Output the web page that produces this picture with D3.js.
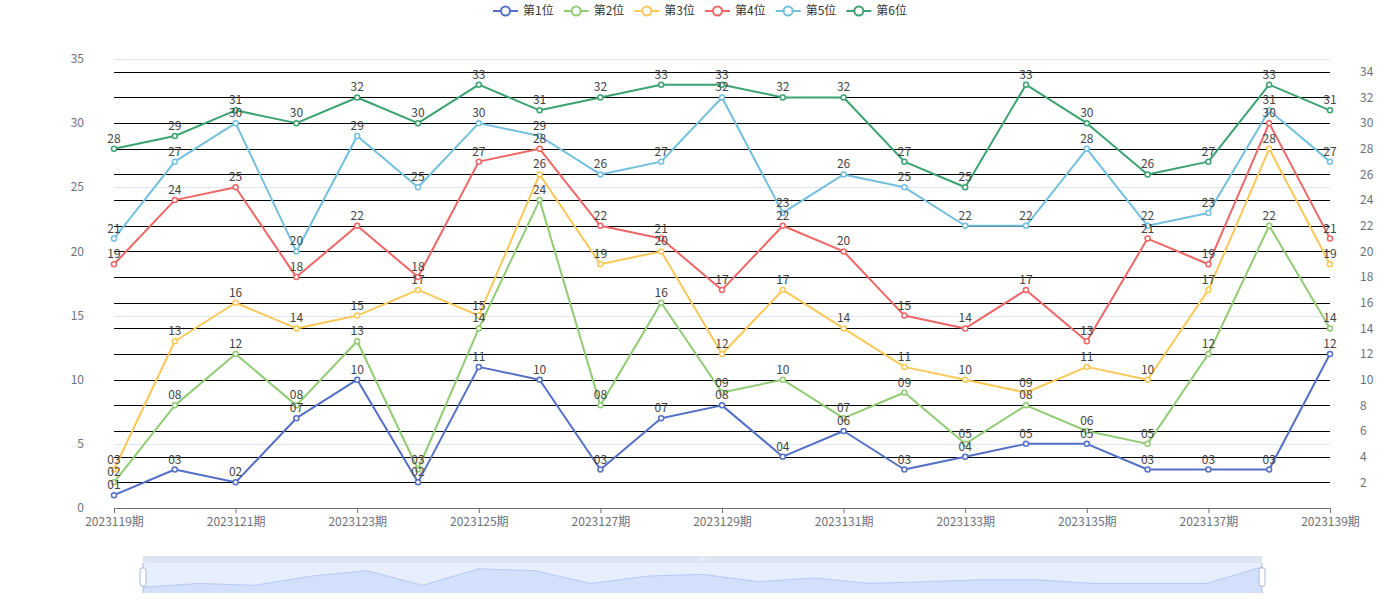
<!DOCTYPE html>
<meta charset="utf-8">
<html>
<script src="https://d3js.org/d3.v7.min.js"></script>
<style>
  body { margin: 0; background: #fff; }
  text { font-family: "Microsoft YaHei", "Noto Sans CJK SC", sans-serif; }
</style>
<div id="chart"></div>
<script>

// periods on the x axis
var periods = ["2023119期", "2023120期", "2023121期", "2023122期", "2023123期", "2023124期", "2023125期",
               "2023126期", "2023127期", "2023128期", "2023129期", "2023130期", "2023131期", "2023132期",
               "2023133期", "2023134期", "2023135期", "2023136期", "2023137期", "2023138期", "2023139期"];

var seriesNames = ["第1位", "第2位", "第3位", "第4位", "第5位", "第6位"];

var pos1 = [1, 3, 2, 7, 10, 2, 11, 10, 3, 7, 8, 4, 6, 3, 4, 5, 5, 3, 3, 3, 12];
var pos2 = [2, 8, 12, 8, 13, 3, 14, 24, 8, 16, 9, 10, 7, 9, 5, 8, 6, 5, 12, 22, 14];
var pos3 = [3, 13, 16, 14, 15, 17, 15, 26, 19, 20, 12, 17, 14, 11, 10, 9, 11, 10, 17, 28, 19];
var pos4 = [19, 24, 25, 18, 22, 18, 27, 28, 22, 21, 17, 22, 20, 15, 14, 17, 13, 21, 19, 30, 21];
var pos5 = [21, 27, 30, 20, 29, 25, 30, 29, 26, 27, 32, 23, 26, 25, 22, 22, 28, 22, 23, 31, 27];
var pos6 = [28, 29, 31, 30, 32, 30, 33, 31, 32, 33, 33, 32, 32, 27, 25, 33, 30, 26, 27, 33, 31];

var leftTicks = [0, 5, 10, 15, 20, 25, 30, 35];
var rightTicks = [2, 4, 6, 8, 10, 12, 14, 16, 18, 20, 22, 24, 26, 28, 30, 32, 34];

var colors = ["#5470c6", "#91cc75", "#fac858", "#ee6666", "#73c0de", "#3ba272"];
var allSeries = [pos1, pos2, pos3, pos4, pos5, pos6];

var width = 1400, height = 600;
var gLeft = 114, gRight = 1330, gTop = 59, gBottom = 508;

var svg = d3.select("#chart").append("svg")
    .attr("width", width)
    .attr("height", height);

var x = d3.scalePoint().domain(periods).range([gLeft, gRight]);
var y = d3.scaleLinear().domain([0, 35]).range([gBottom, gTop]);
var yR = d3.scaleLinear().domain([0, 35]).range([gBottom, gTop]);

// light split lines of the left axis
svg.append("g").selectAll("line")
  .data(leftTicks.filter(function(d) { return d > 0; }))
  .enter().append("line")
    .attr("x1", gLeft).attr("x2", gRight)
    .attr("y1", function(d) { return Math.round(y(d)) + 0.5; })
    .attr("y2", function(d) { return Math.round(y(d)) + 0.5; })
    .attr("stroke", "#E0E6F1");

// black split lines of the right axis
svg.append("g").selectAll("line")
  .data(rightTicks)
  .enter().append("line")
    .attr("x1", gLeft).attr("x2", gRight)
    .attr("y1", function(d) { return Math.round(yR(d)) + 0.5; })
    .attr("y2", function(d) { return Math.round(yR(d)) + 0.5; })
    .attr("stroke", "#000");

// left axis labels
svg.append("g").selectAll("text")
  .data(leftTicks)
  .enter().append("text")
    .attr("x", gLeft - 30)
    .attr("y", function(d) { return y(d); })
    .attr("dy", "0.35em")
    .attr("text-anchor", "end")
    .attr("font-size", 12)
    .attr("fill", "#6E7079")
    .text(function(d) { return d; });

// right axis labels
svg.append("g").selectAll("text")
  .data(rightTicks)
  .enter().append("text")
    .attr("x", gRight + 30)
    .attr("y", function(d) { return yR(d); })
    .attr("dy", "0.35em")
    .attr("text-anchor", "start")
    .attr("font-size", 12)
    .attr("fill", "#6E7079")
    .text(function(d) { return d; });

// x axis
var xAxis = d3.axisBottom(x)
    .tickValues(periods.filter(function(d, i) { return i % 2 === 0; }))
    .tickSizeOuter(0)
    .tickSize(5)
    .tickPadding(4);

var gx = svg.append("g")
    .attr("transform", "translate(0," + gBottom + ")")
    .call(xAxis);
gx.select(".domain").attr("stroke", "#6E7079");
gx.selectAll(".tick line").attr("stroke", "#6E7079");
gx.selectAll(".tick text")
    .attr("fill", "#6E7079")
    .attr("font-size", 12)
    .style("font-family", "'Microsoft YaHei', 'Noto Sans CJK SC', sans-serif");

// lines
var line = d3.line()
    .x(function(d, i) { return x(periods[i]); })
    .y(function(d) { return y(d); });

allSeries.forEach(function(s, k) {
  svg.append("path")
    .datum(s)
    .attr("d", line)
    .attr("fill", "none")
    .attr("stroke", colors[k])
    .attr("stroke-width", 2)
    .attr("stroke-linejoin", "round");

  svg.append("g").selectAll("circle")
    .data(s)
    .enter().append("circle")
      .attr("cx", function(d, i) { return x(periods[i]); })
      .attr("cy", function(d) { return y(d); })
      .attr("r", 2.5)
      .attr("fill", "#fff")
      .attr("stroke", colors[k])
      .attr("stroke-width", 1.5);
});

// value labels on top
allSeries.forEach(function(s, k) {
  svg.append("g").selectAll("text")
    .data(s)
    .enter().append("text")
      .attr("x", function(d, i) { return x(periods[i]); })
      .attr("y", function(d) { return y(d) - 6; })
      .attr("text-anchor", "middle")
      .attr("font-size", 12)
      .attr("fill", "#444")
      .text(function(d) { return d < 10 ? "0" + d : d; });
});

// legend
var legend = svg.append("g");
var lx = 0;
seriesNames.forEach(function(name, k) {
  var g = legend.append("g").attr("transform", "translate(" + lx + ",0)");
  g.append("line")
    .attr("x1", 0).attr("x2", 25)
    .attr("y1", 11).attr("y2", 11)
    .attr("stroke", colors[k])
    .attr("stroke-width", 2);
  g.append("circle")
    .attr("cx", 12.5).attr("cy", 11).attr("r", 4.5)
    .attr("fill", "#fff")
    .attr("stroke", colors[k])
    .attr("stroke-width", 2);
  var t = g.append("text")
    .attr("x", 30).attr("y", 11)
    .attr("dy", "0.35em")
    .attr("font-size", 12)
    .attr("fill", "#333")
    .text(name);
  lx += 30 + t.node().getComputedTextLength() + 10;
});
var legendW = lx - 10;
legend.attr("transform", "translate(" + (width / 2 - legendW / 2) + ",0)");

// data zoom slider
var sx0 = 143, sx1 = 1262, sy0 = 556, sy1 = 593;
var slider = svg.append("g");
slider.append("rect")
    .attr("x", sx0).attr("y", sy0 + 7)
    .attr("width", sx1 - sx0).attr("height", sy1 - sy0 - 7)
    .attr("fill", "#e7eefd");
slider.append("rect")
    .attr("x", sx0).attr("y", sy0)
    .attr("width", sx1 - sx0).attr("height", 7)
    .attr("fill", "#dfe5f2");

var sxs = d3.scalePoint().domain(periods).range([sx0, sx1]);
var sys = d3.scaleLinear().domain([0, d3.max(pos1)]).range([589, 567]);
var area = d3.area()
    .x(function(d, i) { return sxs(periods[i]); })
    .y0(sy1)
    .y1(function(d) { return sys(d); });
var shadowLine = d3.line()
    .x(function(d, i) { return sxs(periods[i]); })
    .y(function(d) { return sys(d); });
slider.append("path")
    .datum(pos1)
    .attr("d", area)
    .attr("fill", "#d3e0fb");
slider.append("path")
    .datum(pos1)
    .attr("d", shadowLine)
    .attr("fill", "none")
    .attr("stroke", "#b4c9f7")
    .attr("stroke-width", 1);

slider.append("text")
    .attr("x", (sx0 + sx1) / 2).attr("y", sy0 + 5)
    .attr("text-anchor", "middle")
    .attr("font-size", 6)
    .attr("fill", "#fff")
    .text("≡");

[sx0, sx1].forEach(function(hx) {
  slider.append("line")
    .attr("x1", hx).attr("x2", hx)
    .attr("y1", sy0 + 7).attr("y2", sy1)
    .attr("stroke", "#ACB8D1");
  slider.append("rect")
    .attr("x", hx - 3).attr("y", 568)
    .attr("width", 6).attr("height", 18)
    .attr("rx", 2)
    .attr("fill", "#fff")
    .attr("stroke", "#ACB8D1");
});
</script>
</html>
